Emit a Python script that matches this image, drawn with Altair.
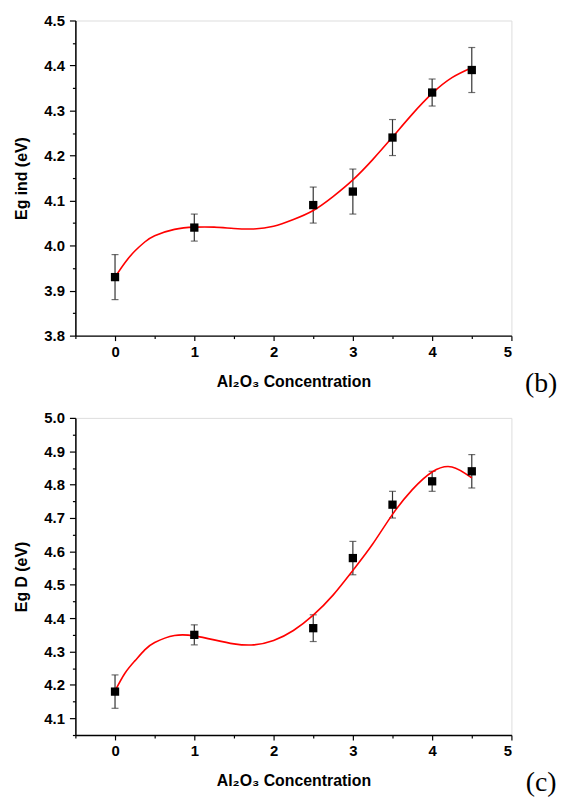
import altair as alt
import pandas as pd

# measured data
conc = [0, 1, 2.5, 3, 3.5, 4, 4.5]
eg_ind = [3.93, 4.04, 4.09, 4.12, 4.24, 4.34, 4.39]
eg_ind_err = [0.05, 0.03, 0.04, 0.05, 0.04, 0.03, 0.05]
eg_d = [4.18, 4.35, 4.37, 4.58, 4.74, 4.81, 4.84]
eg_d_err = [0.05, 0.03, 0.04, 0.05, 0.04, 0.03, 0.05]

# fitted curves
fit_x = [0, 0.125, 0.25, 0.375, 0.5, 0.75, 1, 1.25, 1.5, 1.75, 2, 2.25, 2.5, 2.75, 3, 3.25,
         3.5, 3.75, 4, 4.25, 4.5]
fit_ind = [3.930, 3.962, 3.988, 4.008, 4.022, 4.036, 4.041, 4.041, 4.038, 4.037, 4.043, 4.058,
           4.078, 4.109, 4.146, 4.191, 4.241, 4.292, 4.338, 4.373, 4.395]
fit_d = [4.182, 4.235, 4.272, 4.305, 4.327, 4.348, 4.347, 4.335, 4.323, 4.320, 4.333, 4.363,
         4.409, 4.469, 4.543, 4.622, 4.711, 4.785, 4.838, 4.853, 4.820]

x_ticks = [0, 1, 2, 3, 4, 5]
x_minor = [-0.5, 0.5, 1.5, 2.5, 3.5, 4.5]
ind_ticks = [3.8, 3.9, 4.0, 4.1, 4.2, 4.3, 4.4, 4.5]
ind_minor = [3.85, 3.95, 4.05, 4.15, 4.25, 4.35, 4.45]
d_ticks = [4.1, 4.2, 4.3, 4.4, 4.5, 4.6, 4.7, 4.8, 4.9, 5.0]
d_minor = [4.05, 4.15, 4.25, 4.35, 4.45, 4.55, 4.65, 4.75, 4.85, 4.95]

FONT = "Liberation Sans"
W = 440


def panel(yvals, yerr, fity, ytitle, ydomain, yticks, yminor, tag, H):
    pts = pd.DataFrame({
        "x": conc,
        "y": yvals,
        "lo": [v - e for v, e in zip(yvals, yerr)],
        "hi": [v + e for v, e in zip(yvals, yerr)],
    })
    fit = pd.DataFrame({"x": fit_x, "y": fity})
    xs = alt.Scale(domain=[-0.5, 5], nice=False, zero=False)
    ys = alt.Scale(domain=ydomain, nice=False, zero=False)

    common = dict(domainColor="black", domainWidth=1.5, tickColor="black", tickWidth=1.2,
                  labelFont=FONT, labelFontSize=15, labelFontWeight="bold", labelColor="black",
                  titleFont=FONT, titleFontWeight="bold", titleColor="black", grid=False)

    x_main = alt.Axis(values=x_ticks, format="d", title="Al₂O₃ Concentration", orient="bottom",
                      tickSize=5, labelPadding=4, titlePadding=14, titleFontSize=16, **common)
    y_main = alt.Axis(values=yticks, format=".1f", title=ytitle, orient="left",
                      tickSize=6, labelPadding=5, titlePadding=14, titleFontSize=16, **common)
    x_min = alt.Axis(values=x_minor, labels=False, title=None, orient="bottom", domain=False,
                     tickSize=3, tickColor="black", tickWidth=1.2, grid=False)
    y_min = alt.Axis(values=yminor, labels=False, title=None, orient="left", domain=False,
                     tickSize=3, tickColor="black", tickWidth=1.2, grid=False)

    base_axes = alt.Chart(pts).mark_point(opacity=0).encode(
        x=alt.X("x:Q", scale=xs, axis=x_main),
        y=alt.Y("y:Q", scale=ys, axis=y_main),
    )
    minor_axes = alt.Chart(pts).mark_point(opacity=0).encode(
        x=alt.X("x:Q", scale=xs, axis=x_min),
        y=alt.Y("y:Q", scale=ys, axis=y_min),
    )
    bars = alt.Chart(pts).mark_rule(color="#333333", strokeWidth=1.2).encode(
        x=alt.X("x:Q", scale=xs, axis=None), y=alt.Y("lo:Q", scale=ys, axis=None), y2="hi:Q"
    )
    cap_lo = alt.Chart(pts).mark_tick(color="#333333", size=7, thickness=1.2, orient="horizontal").encode(
        x=alt.X("x:Q", scale=xs, axis=None), y=alt.Y("lo:Q", scale=ys, axis=None)
    )
    cap_hi = alt.Chart(pts).mark_tick(color="#333333", size=7, thickness=1.2, orient="horizontal").encode(
        x=alt.X("x:Q", scale=xs, axis=None), y=alt.Y("hi:Q", scale=ys, axis=None)
    )
    line = alt.Chart(fit).mark_line(color="#ff0000", strokeWidth=1.6, interpolate="natural").encode(
        x=alt.X("x:Q", scale=xs, axis=None), y=alt.Y("y:Q", scale=ys, axis=None)
    )
    squares = alt.Chart(pts).mark_square(color="black", size=70, opacity=1, filled=True).encode(
        x=alt.X("x:Q", scale=xs, axis=None), y=alt.Y("y:Q", scale=ys, axis=None)
    )
    label = alt.Chart(pd.DataFrame({"t": [tag]})).mark_text(
        font="Liberation Serif", fontSize=28, color="black", align="center", baseline="middle"
    ).encode(text="t:N", x=alt.value(W + 30), y=alt.value(H + 49))

    return alt.layer(base_axes, minor_axes, bars, cap_lo, cap_hi, line, squares, label).resolve_axis(
        x="independent", y="independent"
    ).properties(width=W, height=H)


top = panel(eg_ind, eg_ind_err, fit_ind, "Eg ind (eV)", [3.8, 4.5], ind_ticks, ind_minor, "(b)", 318)
bottom = panel(eg_d, eg_d_err, fit_d, "Eg D (eV)", [4.05, 5.0], d_ticks, d_minor, "(c)", 320)

chart = alt.vconcat(top, bottom, spacing=11).properties(
    padding={"left": 5, "top": 1, "right": 0, "bottom": 0}
).configure_view(stroke="#555555", strokeWidth=1.5).configure(background="white")

chart.save("out.html", embed_options={"renderer": "svg", "actions": False})
